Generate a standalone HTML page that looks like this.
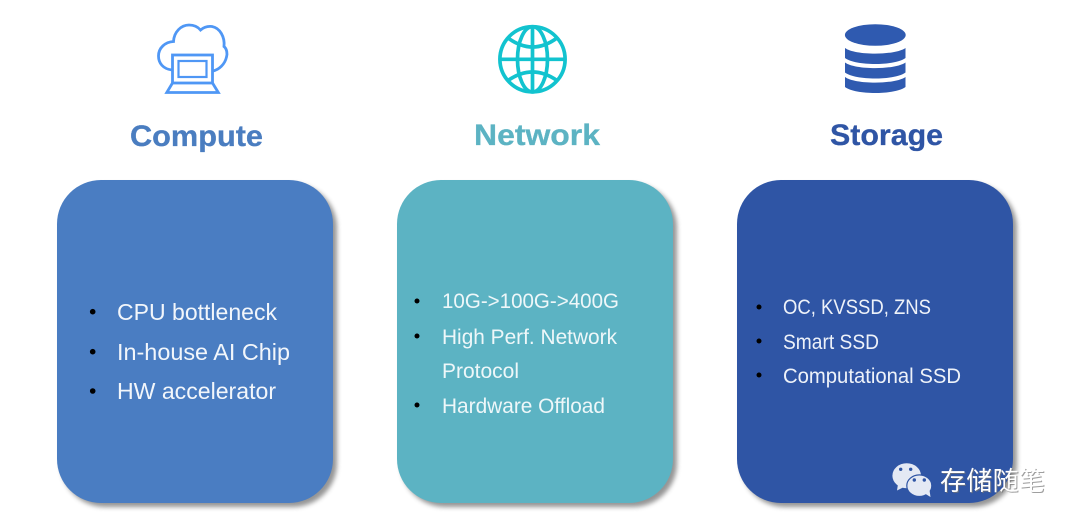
<!DOCTYPE html>
<html><head><meta charset="utf-8">
<style>
html,body{margin:0;padding:0;background:#fff;width:1080px;height:529px;overflow:hidden}
svg{display:block}
text{font-family:"Liberation Sans","Noto Sans CJK SC",sans-serif}
.h{font-weight:bold;font-size:29.5px}
.a{font-size:23px;fill:#f2f6fb}
.b{font-size:21px;fill:#eef7f9}
.c{font-size:21px;fill:#eef2f9}
</style></head><body>
<svg width="1080" height="529" viewBox="0 0 1080 529" xmlns="http://www.w3.org/2000/svg">
<defs><filter id="s" x="-10%" y="-10%" width="125%" height="125%"><feGaussianBlur stdDeviation="2.500"/></filter></defs>

<!-- Shadows -->
<g fill="#555" opacity=".62" filter="url(#s)">
<rect x="61" y="184" width="276" height="323" rx="44"/>
<rect x="401" y="184" width="276" height="323" rx="44"/>
<rect x="741" y="184" width="276" height="323" rx="44"/>
</g>
<!-- Cards -->
<rect x="57" y="180" width="276" height="323" rx="44" fill="#4a7dc2"/>
<rect x="397" y="180" width="276" height="323" rx="44" fill="#5cb3c3"/>
<rect x="737" y="180" width="276" height="323" rx="44" fill="#2f55a5"/>

<!-- Cloud + laptop icon -->
<g fill="none" stroke="#4f97f5" stroke-width="2.800">
<path d="M172 70 C163 69 158.500 63 158.500 56 C158.500 48 165 42 173.500 41.500 C174 32 181 25 189 25 C194 25 198 27 200.500 30 C204 27 208 26 212 26.500 C220 28 225 37 224 46.500 C227 49 227.500 54 226.500 57 C225 64 219 70 212.500 71"/>
<rect x="172.500" y="55" width="40" height="28"/>
<rect x="178.500" y="61" width="28" height="16" stroke-width="2.200"/>
<path d="M172.500 83 L166.800 92.500 H218.300 L212.500 83"/>
</g>

<!-- Globe icon -->
<g fill="none" stroke="#12c3cf" stroke-width="3.700">
<circle cx="532.500" cy="59.300" r="32.600"/>
<ellipse cx="532.500" cy="59.300" rx="15" ry="32.600"/>
<path d="M532.500 26.500 V92 M500 59.300 H565"/>
<path d="M508 38 Q532.500 56 557 38"/>
<path d="M508 80.500 Q532.500 63.500 557 80.500"/>
</g>

<!-- Database icon -->
<g fill="#2f5ab0">
<ellipse cx="875.300" cy="35" rx="30.400" ry="10.800"/>
<path d="M845 48 C855 55.500 895 55.500 905.500 48 V58 C895 66 855 66 845 58 Z"/>
<path d="M845 62.500 C855 70 895 70 905.500 62.500 V72.500 C895 80.500 855 80.500 845 72.500 Z"/>
<path d="M845 77 C855 84.500 895 84.500 905.500 77 V87 C895 95 855 95 845 87 Z"/>
</g>

<!-- Headings -->
<text class="h" x="130" y="146" fill="#4a7dc0" stroke="#4a7dc0" stroke-width=".3" textLength="133" lengthAdjust="spacingAndGlyphs">Compute</text>
<text class="h" x="474" y="145" fill="#5cb3c3" stroke="#5cb3c3" stroke-width=".3" textLength="126" lengthAdjust="spacingAndGlyphs">Network</text>
<text class="h" x="830" y="145" fill="#2f55a5" stroke="#2f55a5" stroke-width=".3" textLength="113" lengthAdjust="spacingAndGlyphs">Storage</text>

<!-- Compute -->
<g fill="#000"><circle cx="92.700" cy="311.700" r="2.800"/><circle cx="92.700" cy="351.700" r="2.800"/><circle cx="92.700" cy="391" r="2.800"/></g>
<text class="a" x="117" y="320" textLength="160" lengthAdjust="spacingAndGlyphs">CPU bottleneck</text>
<text class="a" x="117" y="360" textLength="173" lengthAdjust="spacingAndGlyphs">In-house AI Chip</text>
<text class="a" x="117" y="399" textLength="159" lengthAdjust="spacingAndGlyphs">HW accelerator</text>

<!-- Network -->
<g fill="#000"><circle cx="417" cy="301" r="2.500"/><circle cx="417" cy="336" r="2.500"/><circle cx="417" cy="405" r="2.500"/></g>
<text class="b" x="442" y="308" textLength="177" lengthAdjust="spacingAndGlyphs">10G-&gt;100G-&gt;400G</text>
<text class="b" x="442" y="344" textLength="175" lengthAdjust="spacingAndGlyphs">High Perf. Network</text>
<text class="b" x="442" y="378" textLength="77" lengthAdjust="spacingAndGlyphs">Protocol</text>
<text class="b" x="442" y="413" textLength="163" lengthAdjust="spacingAndGlyphs">Hardware Offload</text>

<!-- Storage -->
<g fill="#000"><circle cx="759" cy="307" r="2.500"/><circle cx="759" cy="341" r="2.500"/><circle cx="759" cy="375" r="2.500"/></g>
<text class="c" x="783" y="314" textLength="148" lengthAdjust="spacingAndGlyphs">OC, KVSSD, ZNS</text>
<text class="c" x="783" y="349" textLength="96" lengthAdjust="spacingAndGlyphs">Smart SSD</text>
<text class="c" x="783" y="383" textLength="178" lengthAdjust="spacingAndGlyphs">Computational SSD</text>

<!-- Watermark -->
<g>
<ellipse cx="906.700" cy="475.700" rx="14.300" ry="12.500" fill="#e4e9f4"/>
<path d="M898 484 L897 490.500 L906 486 Z" fill="#e4e9f4"/>
<ellipse cx="919.300" cy="485.700" rx="12.500" ry="10.800" fill="#e4e9f4" stroke="#2f55a5" stroke-width="1.200"/>
<path d="M924 493 L930.500 497 L929.500 490 Z" fill="#e4e9f4"/>
<g fill="#2f55a5"><circle cx="900.700" cy="469.300" r="1.700"/><circle cx="910.700" cy="469.300" r="1.700"/><circle cx="914.300" cy="480" r="1.700"/><circle cx="924.300" cy="480" r="1.700"/></g>
<text x="941" y="491" font-size="26" fill="#777" opacity=".7" textLength="105">存储随笔</text>
<text x="940" y="490" font-size="26" fill="#fff" textLength="105">存储随笔</text>
</g>
</svg>
</body></html>
